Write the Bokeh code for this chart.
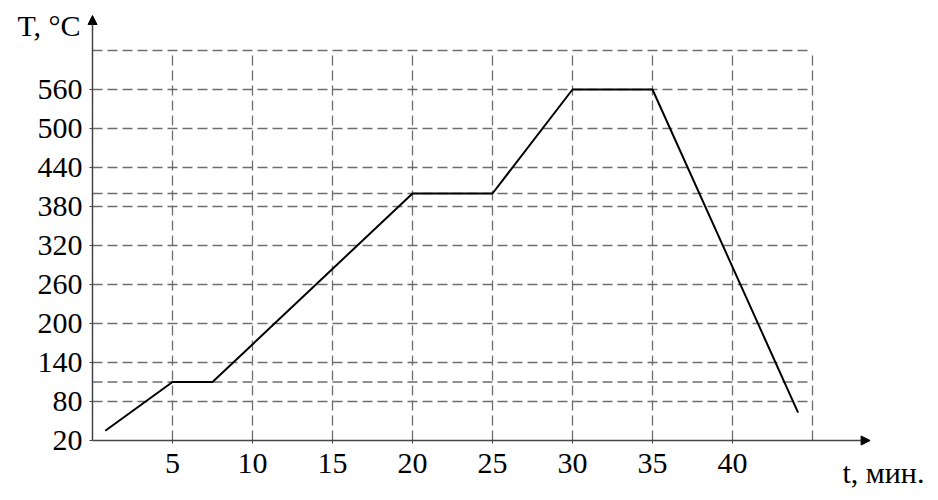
from bokeh.plotting import figure
from bokeh.models import Range1d, FixedTicker, Arrow, NormalHead, Label
from bokeh.embed import file_html
from bokeh.resources import INLINE

# data
t_min = [0.8, 5, 7.5, 20, 25, 30, 35, 44.1]
temp_c = [35, 110, 110, 400, 400, 560, 560, 63]

y_ticks = [20, 80, 140, 200, 260, 320, 380, 440, 500, 560]
x_ticks = [5, 10, 15, 20, 25, 30, 35, 40]
h_grid = [80, 110, 140, 200, 260, 320, 380, 400, 440, 500, 560, 620]
v_grid = [5, 10, 15, 20, 25, 30, 35, 40, 45]

FONT = "Liberation Serif"
FS = "30px"

W, H = 930, 492
PX_PER_MIN, PX_PER_DEG = 16.0, 0.65
ORIGIN_X, ORIGIN_Y = 92, 440  # pixel position of (0, 20)

p = figure(frame_width=W, frame_height=H, min_border=0,
           x_range=Range1d(-ORIGIN_X / PX_PER_MIN, (W - ORIGIN_X) / PX_PER_MIN),
           y_range=Range1d(20 - (H - ORIGIN_Y) / PX_PER_DEG, 20 + ORIGIN_Y / PX_PER_DEG),
           output_backend="svg", toolbar_location=None)
p.outline_line_color = None
p.background_fill_color = "white"
p.border_fill_color = "white"
p.xgrid.visible = False
p.ygrid.visible = False

# dashed grid
p.segment(x0=[0] * len(h_grid), y0=h_grid, x1=[45] * len(h_grid), y1=h_grid,
          line_color="#6e6e6e", line_width=1.3, line_dash="10 5")
p.segment(x0=v_grid, y0=[20] * len(v_grid), x1=v_grid, y1=[620] * len(v_grid),
          line_color="#6e6e6e", line_width=1.3, line_dash="10 5")

# data line
p.line(t_min, temp_c, line_color="black", line_width=2)

# axes arrows
p.add_layout(Arrow(end=NormalHead(size=9, fill_color="black", line_color="black"),
                   x_start=0, y_start=20, x_end=48.6, y_end=20,
                   line_color="#444444", line_width=1.5))
p.add_layout(Arrow(end=NormalHead(size=9, fill_color="black", line_color="black"),
                   x_start=0, y_start=20, x_end=0, y_end=20 + 425 / PX_PER_DEG,
                   line_color="#444444", line_width=1.5))

p.xaxis.fixed_location = 20
p.yaxis.fixed_location = 0
for ax in (p.xaxis[0], p.yaxis[0]):
    ax.axis_line_color = None
    ax.major_tick_in = 0
    ax.major_tick_out = 3
    ax.major_tick_line_color = "#444444"
    ax.minor_tick_line_color = None
    ax.major_label_text_font = FONT
    ax.major_label_text_font_size = FS
    ax.major_label_text_color = "black"

p.xaxis.ticker = FixedTicker(ticks=x_ticks)
p.yaxis.ticker = FixedTicker(ticks=y_ticks)
p.xaxis.major_label_standoff = 10
p.yaxis.major_label_standoff = 7

p.add_layout(Label(x=-0.75, y=20 + (ORIGIN_Y - 25) / PX_PER_DEG,
                   text="T, °C", text_align="right", text_baseline="middle",
                   text_font=FONT, text_font_size=FS, text_color="black"))
p.add_layout(Label(x=(842 - ORIGIN_X) / PX_PER_MIN, y=20 - (472 - ORIGIN_Y) / PX_PER_DEG,
                   text="t, мин.", text_align="left", text_baseline="middle",
                   text_font=FONT, text_font_size=FS, text_color="black"))

open("out.html", "w").write(file_html(p, INLINE))
